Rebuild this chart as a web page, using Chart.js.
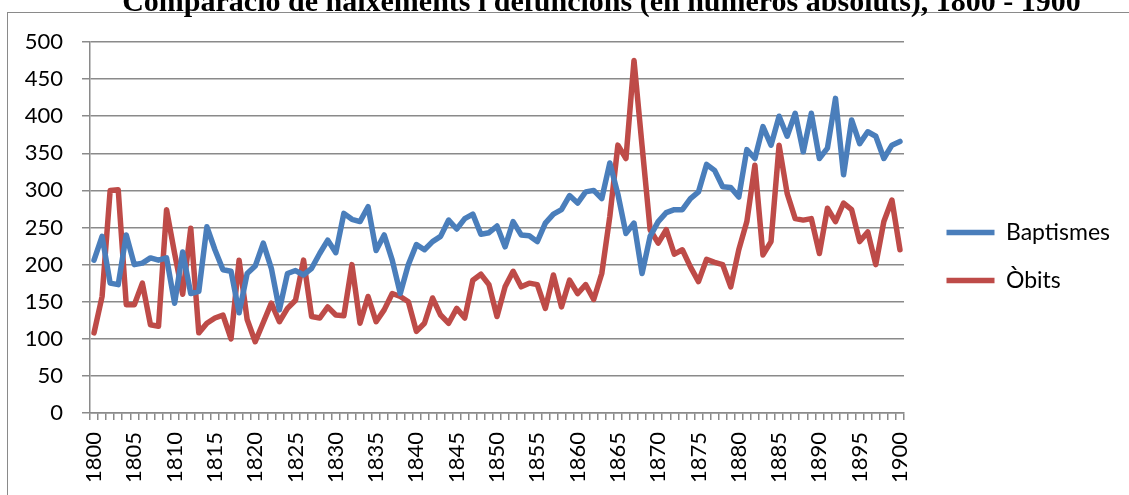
<!DOCTYPE html>
<html>
<head>
<meta charset="utf-8">
<script src="https://cdn.jsdelivr.net/npm/chart.js@4.4.1/dist/chart.umd.min.js"></script>
<style>
  html, body { margin: 0; padding: 0; background: #fff; overflow: hidden; width: 1129px; height: 495px; }
  #frame { position: absolute; left: 7px; top: 12px; width: 1300px; height: 600px;
           border-left: 1.5px solid #8a8a8a; border-top: 1.5px solid #8a8a8a; }
  #c { position: absolute; left: 0; top: -15px; }
</style>
</head>
<body>
<div id="frame"></div>
<canvas id="c" width="1129" height="510"></canvas>
<script>
const chartTitle = 'Comparació de naixements i defuncions (en números absoluts), 1800 - 1900';

const years = [
  '1800','1801','1802','1803','1804','1805','1806','1807','1808','1809',
  '1810','1811','1812','1813','1814','1815','1816','1817','1818','1819',
  '1820','1821','1822','1823','1824','1825','1826','1827','1828','1829',
  '1830','1831','1832','1833','1834','1835','1836','1837','1838','1839',
  '1840','1841','1842','1843','1844','1845','1846','1847','1848','1849',
  '1850','1851','1852','1853','1854','1855','1856','1857','1858','1859',
  '1860','1861','1862','1863','1864','1865','1866','1867','1868','1869',
  '1870','1871','1872','1873','1874','1875','1876','1877','1878','1879',
  '1880','1881','1882','1883','1884','1885','1886','1887','1888','1889',
  '1890','1891','1892','1893','1894','1895','1896','1897','1898','1899',
  '1900'
];

const tickLabels = ['1800','1805','1810','1815','1820','1825','1830','1835','1840','1845',
  '1850','1855','1860','1865','1870','1875','1880','1885','1890','1895','1900'];

const baptismes = [
  206, 238, 175, 173, 240, 200, 202, 209, 206, 209,
  148, 217, 161, 164, 251, 220, 193, 191, 135, 188,
  198, 229, 195, 139, 188, 192, 186, 195, 215, 233,
  216, 269, 261, 258, 278, 219, 240, 206, 161, 200,
  227, 220, 231, 238, 260, 248, 262, 268, 241, 243,
  252, 224, 258, 240, 239, 231, 256, 268, 274, 293,
  283, 298, 300, 289, 337, 295, 242, 256, 188, 238,
  258, 270, 274, 274, 289, 298, 335, 327, 305, 304,
  291, 355, 343, 386, 361, 400, 373, 404, 352, 404,
  343, 357, 424, 321, 395, 363, 379, 373, 343, 361,
  366
];

const obits = [
  108, 157, 300, 301, 146, 146, 175, 119, 117, 274,
  215, 160, 249, 108, 121, 128, 132, 100, 206, 126,
   96, 122, 148, 123, 141, 152, 206, 130, 128, 143,
  132, 131, 200, 121, 157, 123, 139, 161, 157, 150,
  110, 121, 155, 132, 121, 141, 128, 179, 187, 173,
  130, 170, 191, 170, 175, 173, 141, 186, 143, 179,
  161, 173, 153, 188, 265, 361, 343, 475, 360, 247,
  229, 247, 214, 220, 197, 177, 207, 203, 200, 170,
  220, 258, 334, 213, 231, 361, 296, 262, 260, 262,
  215, 276, 258, 283, 274, 231, 244, 200, 258, 287,
  220
];

const seriesNames = ['Baptismes', 'Òbits'];
const yTicks = { min: 0, max: 500, step: 50 };

const gridColor = '#8a8a8a';
const labelFont = { family: 'Lato', size: 22 };
const legendFont = { family: 'Lato', size: 23 };
const legendPad = 25;
const legendLine = 48;

const placeBlocks = {
  id: 'placeBlocks',
  afterLayout(chart) {
    const t = chart.titleBlock;
    if (t) { t.left = 0; t.right = 1203; }
    const lg = chart.legend;
    if (lg) {
      const dx = 946.5 - legendPad - lg.left;
      lg.left += dx; lg.right += dx; lg.top += 16.5; lg.bottom += 16.5;
    }
  }
};

function build() {
  // width the legend needs, so the plot area ends at x = 904
  const mctx = document.createElement('canvas').getContext('2d');
  mctx.font = legendFont.size + 'px ' + legendFont.family;
  const textW = Math.max(...seriesNames.map(s => mctx.measureText(s).width));
  const legendW = legendPad + legendLine + legendFont.size / 2 + textW + 10;
  const padRight = Math.max(0, 1129 - 904 - legendW);

  new Chart(document.getElementById('c'), {
    type: 'line',
    data: {
      labels: years,
      datasets: [
        { label: seriesNames[0], data: baptismes, borderColor: '#4a7ebb', backgroundColor: '#4a7ebb',
          borderWidth: 5.5, pointRadius: 0, tension: 0, borderJoinStyle: 'round', borderCapStyle: 'round' },
        { label: seriesNames[1], data: obits, borderColor: '#be4b48', backgroundColor: '#be4b48',
          borderWidth: 5.5, pointRadius: 0, tension: 0, borderJoinStyle: 'round', borderCapStyle: 'round' }
      ]
    },
    options: {
      responsive: false,
      animation: false,
      devicePixelRatio: 1,
      layout: { padding: { left: 0, right: padRight, top: 0, bottom: 0 } },
      plugins: {
        title: {
          display: true, text: chartTitle, color: '#000',
          font: { family: 'Liberation Serif', size: 30, weight: 'bold' },
          padding: { top: 0, bottom: 21 }
        },
        legend: {
          position: 'right',
          labels: {
            usePointStyle: true, pointStyle: 'line', pointStyleWidth: legendLine,
            padding: legendPad, color: '#000', font: legendFont
          }
        },
        tooltip: { enabled: false }
      },
      scales: {
        x: {
          type: 'category',
          offset: true,
          grid: { offset: true, drawOnChartArea: false, drawTicks: true, tickLength: 7, color: gridColor, lineWidth: 1.5 },
          border: { display: true, color: gridColor, width: 1.5 },
          ticks: {
            autoSkip: false, minRotation: 90, maxRotation: 90, padding: 12, color: '#000', font: labelFont,
            callback: function (v, i) { return tickLabels.includes(years[i]) ? years[i] : ''; }
          },
          afterFit: function (axis) { axis.height = 82; }
        },
        y: {
          min: yTicks.min, max: yTicks.max,
          grid: { color: gridColor, lineWidth: 1.5, drawTicks: true, tickLength: 8 },
          border: { display: true, color: gridColor, width: 1.5 },
          ticks: { stepSize: yTicks.step, padding: 19, color: '#000', font: labelFont },
          afterFit: function (axis) { axis.width = 90; }
        }
      }
    },
    plugins: [placeBlocks]
  });
}

Promise.all([
  document.fonts.load('22px Lato'),
  document.fonts.load('bold 30px "Liberation Serif"')
]).then(build, build);
</script>
</body>
</html>
